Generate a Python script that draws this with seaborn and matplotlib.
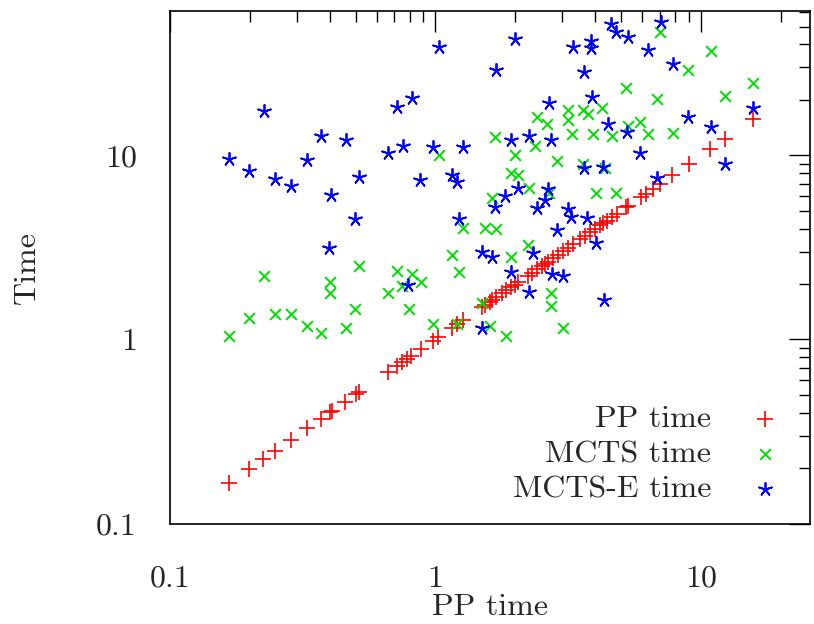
import matplotlib
matplotlib.use("Agg")
import matplotlib.pyplot as plt
import pandas as pd
import seaborn as sns

# PP time (x) -- the red series is PP time plotted against itself
pp_time = [0.167, 0.199, 0.224, 0.249, 0.286, 0.329, 0.371, 0.402, 0.409, 0.457,
           0.503, 0.517, 0.665, 0.719, 0.751, 0.784, 0.812, 0.885, 0.983, 1.026,
           1.159, 1.211, 1.275, 1.492, 1.531, 1.599, 1.641, 1.699, 1.789, 1.853,
           1.935, 1.987, 2.039, 2.224, 2.303, 2.405, 2.512, 2.578, 2.646, 2.764,
           2.887, 3.015, 3.149, 3.289, 3.495, 3.650, 3.812, 3.981, 4.158, 4.268,
           4.419, 4.615, 4.820, 5.212, 5.303, 5.937, 6.200, 6.590, 7.003, 7.773,
           9.009, 10.81, 12.32, 15.71]

mcts_x = [0.166, 0.199, 0.226, 0.249, 0.286, 0.329, 0.371, 0.402, 0.402, 0.461,
          0.499, 0.517, 0.665, 0.719, 0.751, 0.798, 0.819, 0.885, 0.983, 1.035,
          1.159, 1.211, 1.232, 1.275, 1.504, 1.531, 1.599, 1.641, 1.670, 1.699,
          1.853, 1.935, 1.935, 1.987, 2.039, 2.224, 2.244, 2.364, 2.405, 2.624,
          2.669, 2.716, 2.716, 2.862, 3.015, 3.149, 3.149, 3.261, 3.587, 3.587,
          3.746, 3.913, 4.016, 4.231, 4.343, 4.615, 4.778, 5.212, 5.303, 5.886,
          6.310, 6.823, 7.003, 7.841, 8.931, 10.91, 12.32, 15.71]
mcts_y = [1.05, 1.30, 2.20, 1.38, 1.38, 1.18, 1.09, 2.04, 1.78, 1.16,
          1.47, 2.52, 1.78, 2.34, 1.94, 1.47, 2.28, 2.04, 1.21, 10.1,
          2.86, 1.22, 2.31, 4.01, 1.57, 4.01, 1.19, 5.84, 12.5, 3.96,
          1.04, 7.98, 2.79, 10.0, 7.79, 3.24, 6.62, 11.3, 16.1, 14.7,
          6.22, 1.78, 1.51, 9.28, 1.16, 17.6, 15.5, 13.0, 17.6, 8.93,
          16.7, 13.0, 6.22, 18.0, 8.50, 12.7, 6.22, 23.1, 14.4, 15.1,
          13.0, 20.2, 46.6, 13.2, 29.0, 36.7, 20.9, 24.6]

mctse_x = [0.167, 0.199, 0.226, 0.249, 0.286, 0.329, 0.371, 0.398, 0.405, 0.461,
           0.499, 0.517, 0.665, 0.719, 0.757, 0.791, 0.819, 0.878, 0.983, 1.035,
           1.159, 1.211, 1.232, 1.275, 1.492, 1.504, 1.627, 1.670, 1.699, 1.837,
           1.935, 1.935, 1.987, 2.039, 2.244, 2.244, 2.323, 2.405, 2.578, 2.646,
           2.669, 2.716, 2.740, 2.862, 3.015, 3.149, 3.232, 3.289, 3.618, 3.618,
           3.713, 3.845, 3.845, 3.879, 4.016, 4.268, 4.305, 4.458, 4.575, 4.778,
           5.258, 5.303, 5.886, 6.310, 6.823, 7.065, 7.841, 8.931, 10.91, 12.32,
           15.71]
mctse_y = [9.51, 8.18, 17.3, 7.41, 6.78, 9.39, 12.7, 3.12, 6.06, 12.1,
           4.49, 7.59, 10.3, 18.2, 11.2, 1.97, 20.4, 7.31, 11.1, 38.6,
           7.79, 7.13, 4.49, 11.1, 2.97, 1.15, 2.79, 5.22, 29.0, 5.99,
           12.1, 2.31, 42.7, 6.62, 12.8, 1.80, 2.93, 5.15, 5.69, 6.54,
           19.2, 12.1, 2.28, 3.91, 2.20, 5.09, 4.60, 38.6, 28.3, 8.50,
           4.55, 41.6, 38.2, 20.7, 3.32, 8.61, 1.63, 14.7, 51.5, 46.6,
           13.3, 43.8, 10.3, 37.2, 7.50, 52.8, 31.2, 16.1, 14.2, 8.93,
           18.0]

x_ticks = [0.1, 1, 10]
x_tick_labels = ["0.1", "1", "10"]
y_ticks = [0.1, 1, 10]
y_tick_labels = ["0.1", "1", "10"]

sns.set_style("white")
plt.rcParams["font.family"] = ["cmr10", "DejaVu Serif"]
plt.rcParams["axes.formatter.use_mathtext"] = True

fig = plt.figure(figsize=(8.14, 6.24), dpi=100)
ax = fig.add_axes([0.209, 0.161, 0.786, 0.821])

sns.scatterplot(x=pp_time, y=pp_time, ax=ax, marker="+", color="#ff0000",
                s=120, linewidth=1.2, label="PP time")
sns.scatterplot(x=mcts_x, y=mcts_y, ax=ax, marker="x", color="#00e000",
                s=60, linewidth=1.4, label="MCTS time")
sns.scatterplot(x=mctse_x, y=mctse_y, ax=ax, marker=(5, 2, 0), color="#0000ff",
                s=90, linewidth=1.3, label="MCTS-E time")

ax.set_xscale("log")
ax.set_yscale("log")
ax.set_xlim(0.1, 25.8)
ax.set_ylim(0.1, 60.6)
ax.set_xticks(x_ticks)
ax.set_xticklabels(x_tick_labels)
ax.set_yticks(y_ticks)
ax.set_yticklabels(y_tick_labels)

ax.tick_params(which="both", direction="in", top=True, right=True, color="black")
ax.tick_params(which="major", length=15, width=1.0, labelsize=23)
ax.tick_params(axis="x", which="major", pad=30)
ax.tick_params(axis="y", which="major", pad=24)
ax.tick_params(which="minor", length=8, width=1.0)
for sp in ax.spines.values():
    sp.set_color("black")
    sp.set_linewidth(1.2)

ax.set_xlabel("PP time", fontsize=23, labelpad=1)
ax.set_ylabel("Time", fontsize=23, labelpad=40)

leg = ax.legend(loc="lower right", bbox_to_anchor=(1.0, 0.015), frameon=False,
                markerfirst=False, fontsize=23, handletextpad=0.7,
                labelspacing=0.21, borderaxespad=0.0)
# right-align legend rows like gnuplot
for col in leg._legend_box._children[1]._children:
    col.align = "right"

fig.savefig("out.png", dpi=100)
